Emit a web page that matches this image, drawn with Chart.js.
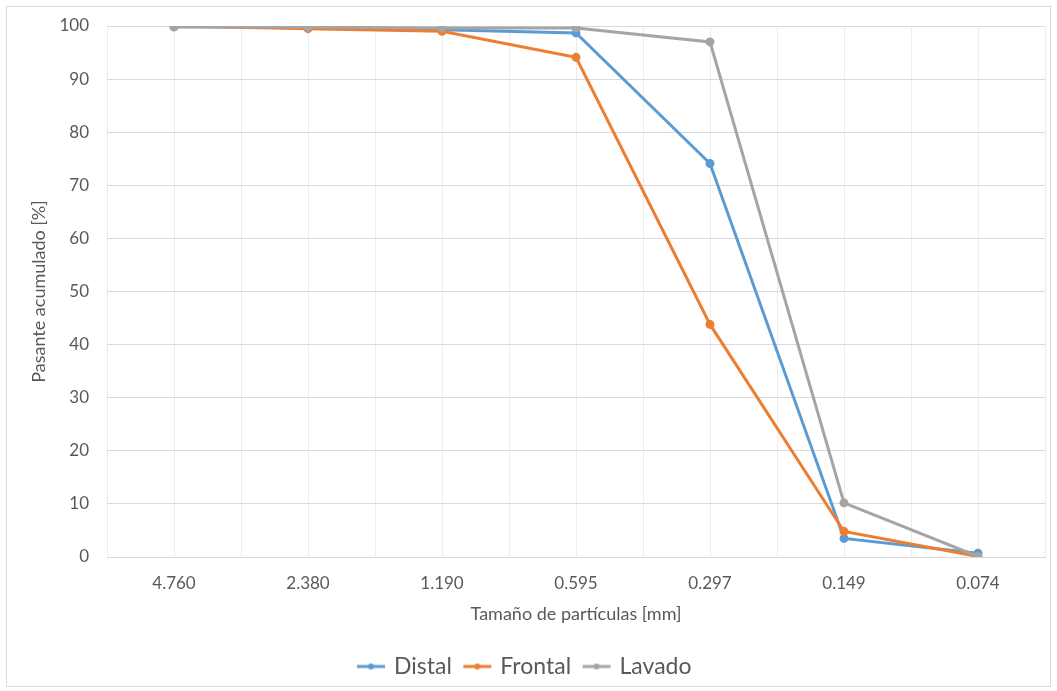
<!DOCTYPE html>
<html>
<head>
<meta charset="utf-8">
<script src="https://cdn.jsdelivr.net/npm/chart.js@4"></script>
<style>
  body { margin: 0; background: #fff; }
  #wrap { position: relative; width: 1057px; height: 691px; }
  #frame { position: absolute; left: 6px; top: 6px; width: 1043px; height: 679px; border: 1px solid #d9d9d9; pointer-events: none; }
</style>
</head>
<body>
<div id="wrap">
  <canvas id="granChart" width="1057" height="691"></canvas>
  <div id="frame"></div>
</div>
<script>
// Tamaños de tamiz (mm)
const sizes = ['4.760', '2.380', '1.190', '0.595', '0.297', '0.149', '0.074'];
const distal = [99.9, 99.7, 99.3, 98.7, 74.1, 3.5, 0.7];
const frontal = [100, 99.5, 99.0, 94.1, 43.8, 4.8, 0.1];
const lavado = [99.8, 99.8, 99.6, 99.6, 97.0, 10.2, 0.1];
const yTicks = [0, 10, 20, 30, 40, 50, 60, 70, 80, 90, 100];

const colors = { Distal: '#5B9BD5', Frontal: '#ED7D31', Lavado: '#A5A5A5' };
const FONT = 'Lato, "Open Sans", sans-serif';
const TXT = '#595959';

const toPoints = vals => vals.map((v, i) => ({ x: i, y: v }));

// small line+dot icon for legend entries
function legendIcon(color) {
    const c = document.createElement('canvas');
    c.width = 30; c.height = 10;
    const g = c.getContext('2d');
    g.strokeStyle = color; g.lineWidth = 3;
    g.beginPath(); g.moveTo(1, 5); g.lineTo(29, 5); g.stroke();
    g.fillStyle = color;
    g.beginPath(); g.arc(15, 5, 3, 0, Math.PI * 2); g.fill();
    return c;
}

// order: higher drawn first, so Lavado ends up on top like the original
function series(label, vals, order) {
    return {
        label: label,
        data: toPoints(vals),
        order: order,
        borderColor: colors[label],
        backgroundColor: colors[label],
        borderWidth: 3,
        pointRadius: 3,
        pointHoverRadius: 4,
        tension: 0
    };
}

const ctx = document.getElementById('granChart').getContext('2d');
new Chart(ctx, {
    type: 'line',
    data: {
        datasets: [series('Distal', distal, 3), series('Frontal', frontal, 2), series('Lavado', lavado, 1)]
    },
    options: {
        responsive: false,
        animation: false,
        layout: { padding: { left: 6, right: 12, top: 26, bottom: 3 } },
        scales: {
            x: {
                type: 'linear',
                min: -0.5,
                max: sizes.length - 0.5,
                afterBuildTicks: axis => {
                    const t = [];
                    for (let v = -0.5; v <= sizes.length - 0.5; v += 0.5) t.push({ value: v });
                    axis.ticks = t;
                },
                afterFit: axis => {
                    axis.height = 84;
                    axis.paddingLeft = 0;
                    axis.paddingRight = 0;
                },
                grid: { color: '#ececec', lineWidth: 1, drawTicks: false },
                border: { color: '#d9d9d9' },
                ticks: {
                    autoSkip: false,
                    maxRotation: 0,
                    padding: 16,
                    color: TXT,
                    font: { family: FONT, size: 17 },
                    callback: v => Number.isInteger(v) ? sizes[v] : ''
                },
                title: {
                    display: true,
                    text: 'Tamaño de partículas [mm]',
                    color: TXT,
                    font: { family: FONT, size: 18 },
                    padding: { top: 4, bottom: 16 }
                }
            },
            y: {
                min: 0,
                max: 100,
                afterBuildTicks: axis => { axis.ticks = yTicks.map(v => ({ value: v })); },
                afterFit: axis => {
                    axis.width = 101;
                    axis.paddingTop = 0;
                    axis.paddingBottom = 0;
                },
                grid: { color: '#d9d9d9', lineWidth: 1, drawTicks: false },
                border: { display: false },
                ticks: {
                    padding: 18,
                    color: TXT,
                    font: { family: FONT, size: 17 }
                },
                title: {
                    display: true,
                    text: 'Pasante acumulado [%]',
                    color: TXT,
                    font: { family: FONT, size: 18 },
                    padding: { top: 22, bottom: 0 }
                }
            }
        },
        plugins: {
            legend: {
                position: 'bottom',
                labels: {
                    usePointStyle: true,
                    color: TXT,
                    font: { family: FONT, size: 23 },
                    padding: 14,
                    generateLabels: chart => {
                        const items = Chart.defaults.plugins.legend.labels.generateLabels(chart);
                        items.sort((a, b) => a.datasetIndex - b.datasetIndex);
                        items.forEach(it => { it.pointStyle = legendIcon(colors[it.text]); });
                        return items;
                    }
                }
            },
            tooltip: { enabled: false }
        }
    }
});
</script>
</body>
</html>
